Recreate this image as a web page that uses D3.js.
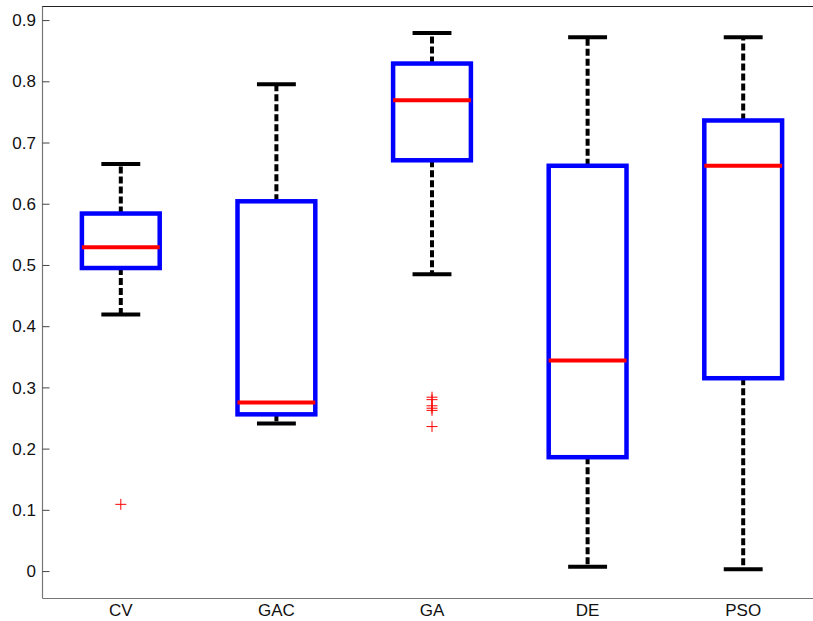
<!DOCTYPE html>
<html>
<head>
<meta charset="utf-8">
<script src="https://cdn.jsdelivr.net/npm/d3@7"></script>
<style>
  html, body { margin: 0; padding: 0; background: #fff; }
  svg { display: block; }
  text { font-family: "Liberation Sans", Arial, Helvetica, sans-serif; }
</style>
</head>
<body>
<svg id="chart" width="813" height="621"></svg>
<script>
// Box-plot statistics per method
const categories  = ["CV", "GAC", "GA", "DE", "PSO"];
const whiskerHigh = [0.665, 0.795, 0.879, 0.872, 0.872];
const q3          = [0.584, 0.604, 0.829, 0.662, 0.736];
const medians     = [0.529, 0.2755, 0.769, 0.344, 0.662];
const q1          = [0.495, 0.256, 0.671, 0.186, 0.315];
const whiskerLow  = [0.419, 0.241, 0.485, 0.007, 0.003];
// Outliers: [category index, value]
const outliers = [
  [0, 0.109],
  [2, 0.284], [2, 0.280], [2, 0.270], [2, 0.266], [2, 0.2625], [2, 0.236]
];
const yTicks = [0, 0.1, 0.2, 0.3, 0.4, 0.5, 0.6, 0.7, 0.8, 0.9];

const svg = d3.select("#chart");

const x = d3.scaleLinear().domain([0.5, 5.5]).range([43, 821]);
const y = d3.scaleLinear().domain([-0.044, 0.923]).range([598, 6]);

const boxHalf = 0.25, capHalf = 0.125;

// axes frame
svg.append("line").attr("x1", 42.5).attr("x2", 42.5).attr("y1", 6).attr("y2", 598.5)
  .attr("stroke", "#777").attr("stroke-width", 1.2);
svg.append("line").attr("x1", 42.5).attr("x2", 821).attr("y1", 598.5).attr("y2", 598.5)
  .attr("stroke", "#777").attr("stroke-width", 1.2);
svg.append("line").attr("x1", 42.5).attr("x2", 821).attr("y1", 6.5).attr("y2", 6.5)
  .attr("stroke", "#222").attr("stroke-width", 1);

// y axis ticks (inward) and labels
const yAxis = d3.axisRight(y).tickValues(yTicks).tickSize(7).tickFormat("");
const gY = svg.append("g").attr("transform", "translate(42.5,0)").call(yAxis);
gY.select(".domain").remove();
gY.selectAll(".tick line").attr("stroke", "#444");
svg.append("g").selectAll("text").data(yTicks).join("text")
  .attr("x", 36).attr("y", d => y(d)).attr("dy", "0.36em")
  .attr("text-anchor", "end").attr("font-size", 17).attr("fill", "#111")
  .text(d => d3.format("")(d));

// x category labels
svg.append("g").selectAll("text").data(categories).join("text")
  .attr("x", (d, i) => x(i + 1)).attr("y", 616)
  .attr("text-anchor", "middle").attr("font-size", 17).attr("fill", "#111")
  .text(d => d);

const boxes = svg.append("g");
categories.forEach((c, i) => {
  const cx = x(i + 1);
  const g = boxes.append("g");
  // dashed whiskers
  g.append("line").attr("x1", cx).attr("x2", cx)
    .attr("y1", y(q3[i])).attr("y2", y(whiskerHigh[i]))
    .attr("stroke", "#000").attr("stroke-width", 4).attr("stroke-dasharray", "7,3");
  g.append("line").attr("x1", cx).attr("x2", cx)
    .attr("y1", y(q1[i])).attr("y2", y(whiskerLow[i]))
    .attr("stroke", "#000").attr("stroke-width", 4).attr("stroke-dasharray", "7,3");
  // whisker caps
  [whiskerHigh[i], whiskerLow[i]].forEach(v => {
    g.append("line").attr("x1", x(i + 1 - capHalf)).attr("x2", x(i + 1 + capHalf))
      .attr("y1", y(v)).attr("y2", y(v))
      .attr("stroke", "#000").attr("stroke-width", 4);
  });
  // box
  g.append("rect")
    .attr("x", x(i + 1 - boxHalf)).attr("width", x(i + 1 + boxHalf) - x(i + 1 - boxHalf))
    .attr("y", y(q3[i])).attr("height", y(q1[i]) - y(q3[i]))
    .attr("fill", "none").attr("stroke", "#0000ff").attr("stroke-width", 4.5);
  // median
  g.append("line").attr("x1", x(i + 1 - boxHalf)).attr("x2", x(i + 1 + boxHalf))
    .attr("y1", y(medians[i])).attr("y2", y(medians[i]))
    .attr("stroke", "#ff0000").attr("stroke-width", 4);
});

// outlier markers
const arm = 5.5;
const og = svg.append("g").attr("stroke", "#ff0000").attr("stroke-width", 1);
outliers.forEach(([i, v]) => {
  const cx = x(i + 1), cy = y(v);
  og.append("line").attr("x1", cx - arm).attr("x2", cx + arm).attr("y1", cy).attr("y2", cy);
  og.append("line").attr("x1", cx).attr("x2", cx).attr("y1", cy - arm).attr("y2", cy + arm);
});
</script>
</body>
</html>
